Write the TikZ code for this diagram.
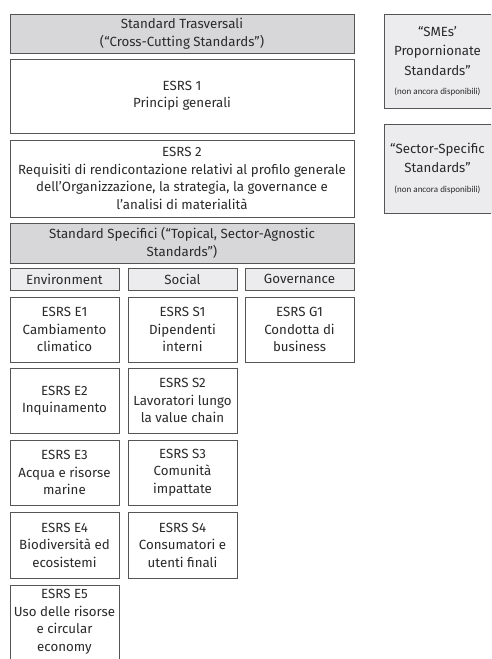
\documentclass[tikz,border=0pt]{standalone}
\usepackage{fontspec}
\setmainfont{Fira Sans}
\newfontfamily\smallfont{Carlito}
\definecolor{hdr}{HTML}{D7D7D9}
\definecolor{lt}{HTML}{ECECEE}
\definecolor{bd}{HTML}{555555}
\definecolor{tx}{HTML}{2A2A2A}
\tikzset{
  bx/.style={draw=bd, line width=0.8pt, inner sep=0pt, outer sep=0pt, anchor=north west, align=center, text=tx, font=\fontsize{13.3}{17.5}\selectfont},
  dark/.style={bx, fill=hdr},
  light/.style={bx, fill=lt},
  plain/.style={bx, fill=white},
  side/.style={light, font=\fontsize{13.3}{19.5}\selectfont},
}
\newcommand{\bxat}[7]{\node[#6, minimum width=#4pt-#2pt, minimum height=#5pt-#3pt] (#1) at (#2pt,-#3pt) {#7};}
\begin{document}
\begin{tikzpicture}[x=1pt,y=1pt]
\useasboundingbox (0,0) rectangle (491,-659);
\clip (0,0) rectangle (491,-659);
\bxat{top}{10}{14}{354}{53}{dark}{Standard Trasversali\\(“Cross-Cutting Standards”)}
\bxat{esrsone}{10}{59}{354}{133}{plain}{ESRS 1\\Principi generali}
\bxat{esrstwo}{10}{140}{354}{217}{plain}{ESRS 2\\Requisiti di rendicontazione relativi al profilo generale\\dell’Organizzazione, la strategia, la governance e\\l’analisi di materialità}
\bxat{spec}{10}{223}{354}{263}{dark}{Standard Specifici (“Topical, Sector-Agnostic\\Standards”)}
\bxat{env}{10}{268}{119}{290}{light}{Environment}
\bxat{soc}{128}{268}{237}{290}{light}{Social}
\bxat{gov}{245}{268}{354}{290}{light}{Governance}
\bxat{eone}{10}{297}{119}{362}{plain}{ESRS E1\\Cambiamento\\climatico}
\bxat{sone}{128}{297}{237}{362}{plain}{ESRS S1\\Dipendenti\\interni}
\bxat{gone}{245}{297}{354}{362}{plain}{ESRS G1\\Condotta di\\business}
\bxat{etwo}{10}{368}{119}{433}{plain}{ESRS E2\\Inquinamento}
\bxat{stwo}{128}{368}{237}{433}{plain}{ESRS S2\\Lavoratori lungo\\la value chain}
\bxat{ethree}{10}{440}{119}{505}{plain}{ESRS E3\\Acqua e risorse\\marine}
\bxat{sthree}{128}{440}{237}{505}{plain}{ESRS S3\\Comunità\\impattate}
\bxat{efour}{10}{512}{119}{578}{plain}{ESRS E4\\Biodiversità ed\\ecosistemi}
\bxat{sfour}{128}{512}{237}{578}{plain}{ESRS S4\\Consumatori e\\utenti finali}
\node[plain, minimum width=109pt, minimum height=90pt] (efive) at (10,-585) {};
\node[anchor=north, align=center, text=tx, font=\fontsize{13.3}{17.7}\selectfont, inner sep=0pt] (efivetxt) at ([yshift=-4pt]efive.north) {ESRS E5\\Uso delle risorse\\e circular\\economy};
\bxat{smes}{384}{14}{491}{108}{side}{“SMEs’\\Propornionate\\Standards”\\{\smallfont\fontsize{9}{11}\selectfont(non ancora disponibili)}}
\bxat{sector}{384}{124}{491}{213}{side}{“Sector-Specific\\Standards”\\{\smallfont\fontsize{9}{11}\selectfont(non ancora disponibili)}}
\end{tikzpicture}
\end{document}
